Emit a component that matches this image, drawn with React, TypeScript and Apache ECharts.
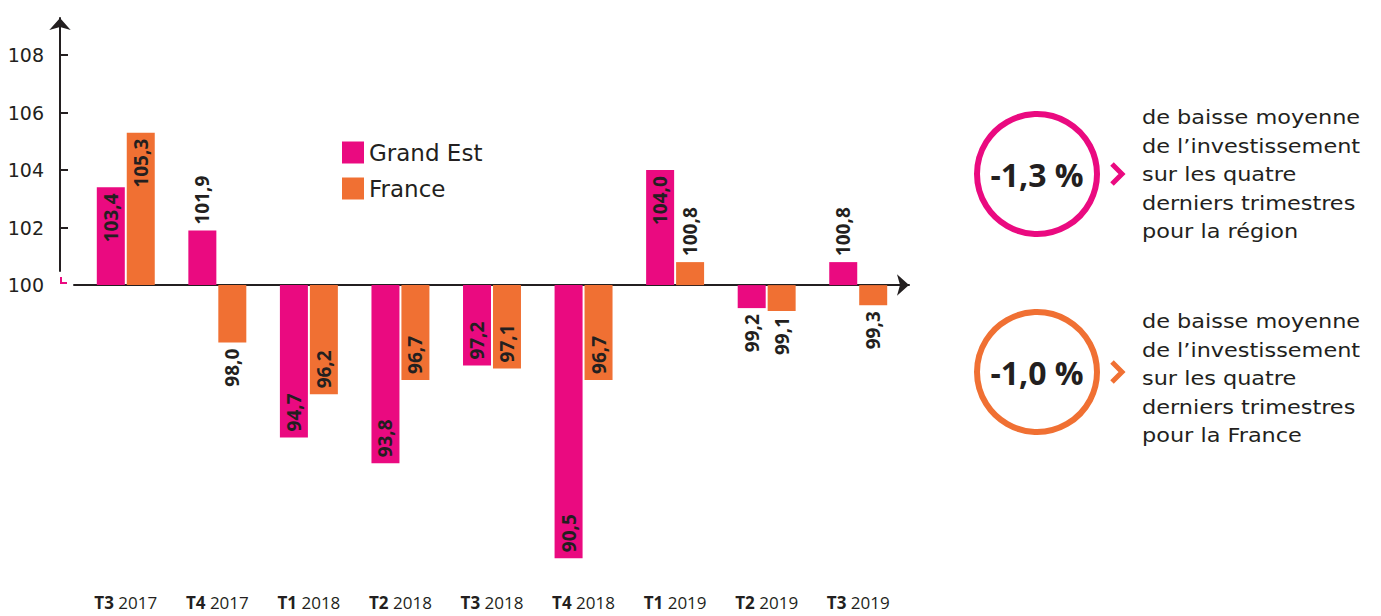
import React, { useEffect, useRef } from "react";
import * as echarts from "echarts";

const quarters = ["T3", "T4", "T1", "T2", "T3", "T4", "T1", "T2", "T3"];
const years = ["2017", "2017", "2018", "2018", "2018", "2018", "2019", "2019", "2019"];
const grandEst = [103.4, 101.9, 94.7, 93.8, 97.2, 90.5, 104.0, 99.2, 100.8];
const france = [105.3, 98.0, 96.2, 96.7, 97.1, 96.7, 100.8, 99.1, 99.3];
const yTickLabels = [100, 102, 104, 106, 108];
const base = 100;
const seriesNames = ["Grand Est", "France"];
const regionStat = "-1,3 %";
const franceStat = "-1,0 %";
const regionText = ["de baisse moyenne", "de l\u2019investissement", "sur les quatre", "derniers trimestres", "pour la région"];
const franceText = ["de baisse moyenne", "de l\u2019investissement", "sur les quatre", "derniers trimestres", "pour la France"];

const PINK = "#ea0a80";
const ORANGE = "#f07033";
const DARK = "#231f20";
const FONT = "Open Sans";
const WIDE = "DejaVu Sans";

const fmt = (v: number) => v.toFixed(1).replace(".", ",");

function buildData(values: number[]) {
  return values.map((v) => {
    const dev = +(v - base).toFixed(1);
    const inside = Math.abs(dev) >= 2.5;
    let position: string;
    let align: string;
    if (dev >= 0) {
      position = inside ? "insideTop" : "top";
      align = inside ? "right" : "left";
    } else {
      position = inside ? "insideBottom" : "bottom";
      align = inside ? "left" : "right";
    }
    return { value: dev, label: { position, align } };
  });
}

export default function App() {
  const ref = useRef<HTMLDivElement>(null);
  useEffect(() => {
    if (!ref.current) return;
    const chart = echarts.init(ref.current, null, { renderer: "svg" });
    const categories = quarters.map((q, i) => `${q} ${years[i]}`);
    const labelCommon = {
      show: true,
      rotate: 90,
      verticalAlign: "middle",
      distance: 6,
      color: DARK,
      fontFamily: FONT,
      fontWeight: "bold",
      fontSize: 19,
    };
    const makeSeries = (name: string, values: number[], color: string) => ({
      name,
      type: "bar",
      xAxisIndex: 0,
      yAxisIndex: 0,
      barWidth: 28,
      barGap: "7%",
      itemStyle: { color },
      label: {
        ...labelCommon,
        formatter: (p: any) => fmt(values[p.dataIndex]),
      },
      data: buildData(values),
    });

    const textBlock = (lines: string[], top: number) => ({
      type: "text",
      x: 1142,
      y: top,
      scaleX: 1.12,
      style: {
        text: lines.join("\n"),
        fontSize: 20,
        fontFamily: WIDE,
        lineHeight: 28.5,
        fill: DARK,
        align: "left",
        verticalAlign: "top",
      },
    });
    const statCircle = (cy: number, color: string, txt: string) => [
      {
        type: "circle",
        shape: { cx: 1037, cy, r: 60 },
        style: { fill: "none", stroke: color, lineWidth: 6 },
      },
      {
        type: "text",
        x: 1037,
        y: cy,
        style: {
          text: txt,
          fontSize: 32,
          fontWeight: "bold",
          fontFamily: FONT,
          fill: DARK,
          align: "center",
          verticalAlign: "middle",
        },
      },
      {
        type: "polyline",
        shape: { points: [[1112, cy - 10], [1122, cy], [1112, cy + 10]] },
        style: { fill: "none", stroke: color, lineWidth: 5 },
      },
    ];

    chart.setOption({
      animation: false,
      grid: [
        { left: 80, width: 824, top: 12, bottom: 43.4 },
        { left: 60, width: 10, top: 18, height: 253 },
        { left: 74, width: 835, top: 200, height: 85 },
      ],
      legend: {
        orient: "vertical",
        left: 337,
        top: 136,
        itemWidth: 22,
        itemHeight: 22,
        itemGap: 13,
        icon: "rect",
        data: seriesNames,
        textStyle: { color: DARK, fontSize: 23, fontFamily: WIDE },
      },
      xAxis: [
        {
          type: "category",
          gridIndex: 0,
          data: categories,
          position: "bottom",
          axisLine: { show: false, onZero: false },
          axisTick: { show: false },
          axisLabel: {
            margin: 21,
            interval: 0,
            color: DARK,
            fontFamily: FONT,
            fontSize: 17,
            lineHeight: 17,
            formatter: (v: string) => {
              const [q, y] = v.split(" ");
              return `{q|${q}} ${y}`;
            },
            rich: {
              q: { fontWeight: "bold", fontSize: 17, lineHeight: 17, fontFamily: FONT, color: DARK },
            },
          },
        },
        { type: "value", gridIndex: 1, show: false },
        {
          type: "value",
          gridIndex: 2,
          min: 0,
          max: 1,
          axisLine: {
            show: true,
            onZero: false,
            symbol: ["none", "arrow"],
            symbolSize: [16, 12],
            lineStyle: { color: DARK, width: 2 },
          },
          axisTick: { show: false },
          axisLabel: { show: false },
          splitLine: { show: false },
        },
      ],
      yAxis: [
        {
          type: "value",
          gridIndex: 0,
          min: -10,
          max: 9.5,
          interval: 2,
          offset: 20,
          axisLine: { show: false },
          splitLine: { show: false },
          axisTick: {
            show: true,
            inside: true,
            length: 8,
            customValues: yTickLabels.slice(1).map((t) => t - base),
            lineStyle: { color: DARK, width: 2 },
          },
          axisLabel: {
            margin: 16,
            color: DARK,
            fontFamily: WIDE,
            fontSize: 19,
            customValues: yTickLabels.map((t) => t - base),
            formatter: (v: number) => String(v + base),
          },
        },
        {
          type: "value",
          gridIndex: 1,
          axisLine: {
            show: true,
            onZero: false,
            symbol: ["none", "arrow"],
            symbolSize: [16, 12],
            lineStyle: { color: DARK, width: 2 },
          },
          axisTick: { show: false },
          axisLabel: { show: false },
          splitLine: { show: false },
        },
        { type: "value", gridIndex: 2, show: false },
      ],
      series: [
        makeSeries(seriesNames[0], grandEst, PINK),
        makeSeries(seriesNames[1], france, ORANGE),
      ],
      graphic: [
        {
          type: "polyline",
          shape: { points: [[61, 277], [61, 283], [67, 283]] },
          style: { fill: "none", stroke: PINK, lineWidth: 2 },
        },
        ...statCircle(174, PINK, regionStat),
        ...statCircle(372, ORANGE, franceStat),
        textBlock(regionText, 103),
        textBlock(franceText, 307),
      ],
    });
    return () => chart.dispose();
  }, []);
  return (
    <div
      ref={ref}
      style={{ position: "fixed", left: 0, top: 0, width: 1381, height: 616, background: "#fff" }}
    />
  );
}
